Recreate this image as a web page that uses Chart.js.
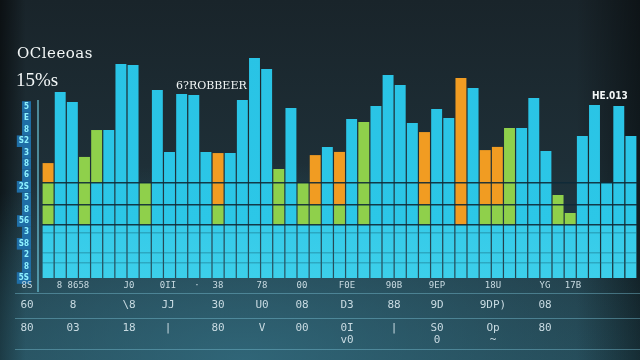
<!DOCTYPE html>
<html>
<head>
<meta charset="utf-8">
<script src="https://cdn.jsdelivr.net/npm/chart.js@4.4.1/dist/chart.umd.min.js"></script>
<style>
    html, body {
        margin: 0;
        padding: 0;
        width: 640px;
        height: 360px;
        overflow: hidden;
    }
    #wrap {
        position: relative;
        width: 640px;
        height: 360px;
        background:
            radial-gradient(ellipse 70% 55% at 38% 100%, rgba(52, 112, 132, 0.75), rgba(52, 112, 132, 0) 100%),
            linear-gradient(90deg, rgba(0, 0, 0, 0.55) 0, rgba(0, 0, 0, 0) 4%, rgba(0, 0, 0, 0) 90%, rgba(0, 0, 0, 0.45) 100%),
            linear-gradient(180deg, #19242a 0%, #1e2f37 45%, #234652 100%);
        font-family: "DejaVu Sans", sans-serif;
        color: #e8f2f4;
    }
    #bars-chart {
        position: absolute;
        left: 0;
        top: 0;
    }
    .axis-line {
        position: absolute;
        left: 37px;
        top: 100px;
        width: 2px;
        height: 192px;
        background: rgba(110, 200, 220, 0.6);
    }
    .caption {
        position: absolute;
        white-space: nowrap;
        line-height: 1;
        color: #f2f6f6;
    }
    .caption.main { left: 17px; top: 44px; font: 15px "DejaVu Serif", serif; letter-spacing: 0.5px; }
    .caption.sub { left: 16px; top: 69px; font: 19px "Liberation Serif", serif; }
    .caption.mid { left: 176px; top: 79px; font: 11px "DejaVu Serif", serif; }
    .caption.right { left: 592px; top: 90px; font: bold 10px "DejaVu Sans Condensed", sans-serif; }
    .table-row {
        position: absolute;
        left: 15px;
        right: 0;
        border-bottom: 1.5px solid rgba(120, 190, 210, 0.45);
    }
    .table-row span {
        position: absolute;
        transform: translateX(-50%);
        white-space: pre;
        text-align: center;
        color: #c9dbe2;
        font-family: "DejaVu Sans Mono", monospace;
    }
    #row-1 { top: 278px; height: 15px; }
    #row-1 span { top: 2px; font-size: 9px; line-height: 10px; }
    #row-2 { top: 294px; height: 24px; }
    #row-2 span { top: 5px; font-size: 11px; line-height: 12px; }
    #row-3 { top: 319px; height: 30px; }
    #row-3 span { top: 3px; font-size: 11px; line-height: 12px; }
</style>
</head>
<body>
<div id="wrap">
    <canvas id="bars-chart"></canvas>
    <div class="axis-line"></div>
    <div class="caption main">OCleeoas</div>
    <div class="caption sub">15%s</div>
    <div class="caption mid">6?ROBBEER</div>
    <div class="caption right">HE.013</div>
    <div class="table-row" id="row-1"></div>
    <div class="table-row" id="row-2"></div>
    <div class="table-row" id="row-3"></div>
</div>
<script>
// Chart data
const categories = ['1', '2', '3', '4', '5', '6', '7', '8', '9', '10',
    '11', '12', '13', '14', '15', '16', '17', '18', '19', '20',
    '21', '22', '23', '24', '25', '26', '27', '28', '29', '30',
    '31', '32', '33', '34', '35', '36', '37', '38', '39', '40',
    '41', '42', '43', '44', '45', '46', '47', '48', '49'];

// full height of every bar
const totals = [50.4, 81.6, 77.2, 53.1, 64.9, 64.9, 93.9, 93.4, 41.7, 82.5,
    55.3, 80.7, 80.3, 55.3, 54.8, 54.8, 78.1, 96.5, 91.7, 47.8,
    74.6, 41.7, 53.9, 57.5, 55.3, 69.7, 68.4, 75.4, 89.0, 84.6,
    68.0, 64.0, 74.1, 70.2, 87.7, 83.3, 56.1, 57.5, 65.8, 65.8,
    78.9, 55.7, 36.4, 28.5, 62.3, 75.9, 41.7, 75.4, 62.3];

// where the green part of a bar begins (null = no green part)
const greenFrom = [23.2, null, null, 23.2, 41.7, null, null, null, 23.2, null,
    null, null, null, null, 23.2, null, null, null, null, 23.2,
    null, 23.2, 23.2, null, 23.2, null, 23.2, null, null, null,
    null, 23.2, null, null, null, null, 23.2, 23.2, 23.2, null,
    null, null, 23.2, 23.2, null, null, null, null, null];

// where the orange part of a bar begins (null = no orange part)
const orangeFrom = [41.7, null, null, null, null, null, null, null, null, null,
    null, null, null, null, 32.0, null, null, null, null, null,
    null, null, 32.0, null, 32.0, null, null, null, null, null,
    null, 32.0, null, null, 23.2, null, 32.0, 32.0, null, null,
    null, null, null, null, null, null, null, null, null];

// y axis tick values and their (odd) labels
const yTickValues = [0, 5, 10, 15, 20, 25, 30, 35, 40, 45, 50, 55, 60, 65, 70, 75];
const yTickLabels = ['5S', '8', '2', 'S8', '3', '56', '8', '5', '2S', '6', '8', '3', 'S2', '8', 'E', '5'];

// horizontal rules drawn over the bars
const strongRules = [23.2, 32.0, 41.7];
const faintRules = [6.6, 11.0, 19.7];

// table under the chart
const row1Labels = ['8S', '8 8658', 'J0', '0II', '·', '38', '78', '00', 'F0E', '90B', '9EP', '18U', 'YG', '17B'];
const row2Labels = ['60', '8', '\\8', 'JJ', '', '30', 'U0', '08', 'D3', '88', '9D', '9DP)', '08', ''];
const row3Labels = ['80', '03', '18', '|', '', '80', 'V', '00', '0I\nv0', '|', 'S0\n0', 'Op\n~', '80', ''];

// layout only: centre of every table column
const tableColumns = [12, 58, 114, 153, 182, 203, 247, 287, 332, 379, 422, 478, 530, 558];

const CYAN = '#2cc7e7';
const GREEN = '#8fd04b';
const ORANGE = '#f19c22';

document.addEventListener('DOMContentLoaded', function() {
    buildTable();
    setupBarsChart();
});

// Fill the three text rows under the plot
function buildTable() {
    const rows = [row1Labels, row2Labels, row3Labels];
    rows.forEach((labels, r) => {
        const rowEl = document.getElementById('row-' + (r + 1));
        labels.forEach((text, i) => {
            if (!text) return;
            const span = document.createElement('span');
            span.textContent = text;
            span.style.left = tableColumns[i] + 'px';
            rowEl.appendChild(span);
        });
    });
}

// Cyan gets a slightly lighter tone in the low band
function cyanFill(context) {
    const chart = context.chart;
    const area = chart.chartArea;
    if (!area) return CYAN;
    const y = chart.scales.y;
    const g = chart.ctx.createLinearGradient(0, area.top, 0, area.bottom);
    const stop = (y.getPixelForValue(23.2) - area.top) / (area.bottom - area.top);
    g.addColorStop(0, '#29c3e5');
    g.addColorStop(stop, '#2cc7e7');
    g.addColorStop(Math.min(1, stop + 0.001), '#36cbe9');
    g.addColorStop(1, '#3ccfea');
    return g;
}

// Setup the stacked bar chart
function setupBarsChart() {
    const ctx = document.getElementById('bars-chart');
    if (!ctx) return;

    // split every bar into its cyan, green and orange parts
    const cyanPart = totals.map((t, i) => {
        if (greenFrom[i] !== null) return greenFrom[i];
        if (orangeFrom[i] !== null) return orangeFrom[i];
        return t;
    });
    const greenPart = totals.map((t, i) => {
        if (greenFrom[i] === null) return 0;
        const end = orangeFrom[i] !== null ? orangeFrom[i] : t;
        return end - greenFrom[i];
    });
    const orangePart = totals.map((t, i) => orangeFrom[i] !== null ? t - orangeFrom[i] : 0);

    const common = {
        barPercentage: 0.9,
        categoryPercentage: 1,
        borderWidth: 0,
        borderSkipped: false
    };

    new Chart(ctx, {
        type: 'bar',
        data: {
            labels: categories,
            datasets: [
                Object.assign({ label: 'cyan', data: cyanPart, backgroundColor: cyanFill }, common),
                Object.assign({ label: 'green', data: greenPart, backgroundColor: GREEN }, common),
                Object.assign({ label: 'orange', data: orangePart, backgroundColor: ORANGE }, common)
            ]
        },
        options: {
            responsive: true,
            maintainAspectRatio: false,
            animation: false,
            layout: {
                padding: { top: 50, bottom: 82, left: 15, right: 3 }
            },
            plugins: {
                legend: { display: false },
                tooltip: { enabled: false }
            },
            scales: {
                x: {
                    stacked: true,
                    display: false
                },
                y: {
                    stacked: true,
                    position: 'left',
                    min: 0,
                    max: 100,
                    afterBuildTicks: function(axis) {
                        axis.ticks = yTickValues.map(v => ({ value: v }));
                    },
                    afterFit: function(axis) {
                        axis.width = 27;
                    },
                    grid: { display: false },
                    border: { display: false },
                    ticks: {
                        autoSkip: false,
                        padding: 5,
                        color: '#8ef2ff',
                        font: { family: 'DejaVu Sans Condensed', size: 8, weight: 'bold' },
                        showLabelBackdrop: true,
                        backdropColor: '#1f6ea6',
                        backdropPadding: { x: 2, y: 1 },
                        callback: function(value, index) {
                            return yTickLabels[index];
                        }
                    }
                },
                yGrid: {
                    position: 'right',
                    min: 0,
                    max: 100,
                    afterBuildTicks: function(axis) {
                        axis.ticks = strongRules.concat(faintRules).map(v => ({ value: v }));
                    },
                    afterFit: function(axis) {
                        axis.width = 0;
                    },
                    border: { display: false },
                    ticks: { display: false },
                    grid: {
                        z: 1,
                        drawTicks: false,
                        lineWidth: 1.5,
                        color: function(context) {
                            const v = context.tick ? context.tick.value : null;
                            return strongRules.includes(v) ? 'rgba(14, 42, 56, 0.9)' : 'rgba(20, 100, 120, 0.35)';
                        }
                    }
                }
            }
        }
    });
}
</script>
</body>
</html>
